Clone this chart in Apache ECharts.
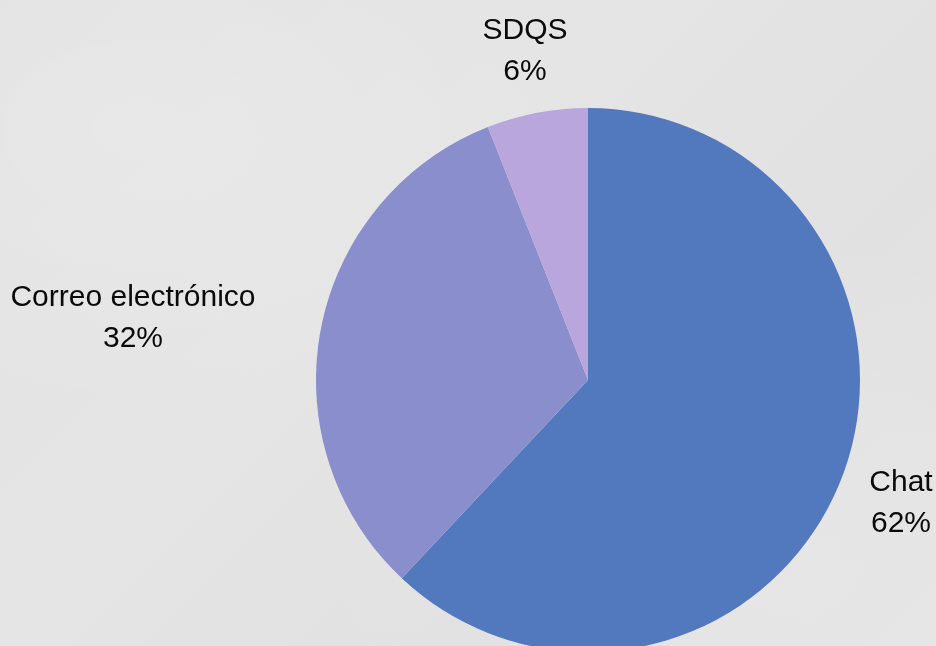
<!DOCTYPE html>
<html>
<head>
<meta charset="utf-8">
<script src="https://cdn.jsdelivr.net/npm/echarts@6/dist/echarts.min.js"></script>
<style>
html,body{margin:0;padding:0;}
body{width:936px;height:646px;overflow:hidden;
background:
 radial-gradient(ellipse at 15% 20%, rgba(255,255,255,0.18), rgba(255,255,255,0) 40%),
 radial-gradient(ellipse at 80% 85%, rgba(255,255,255,0.12), rgba(255,255,255,0) 45%),
 linear-gradient(135deg,#e2e2e3 0%,#e5e5e6 40%,#e1e1e2 70%,#e4e4e5 100%);}
#c{width:936px;height:646px;}
</style>
</head>
<body>
<div id="c"></div>
<script>
const categories = ['Chat', 'Correo electrónico', 'SDQS'];
const values = [62, 32, 6];
const colors = ['#5278bd', '#8b8ecc', '#b8a6dd'];

const labelPos = [[901, 503], [133, 318], [525, 51]];

const chart = echarts.init(document.getElementById('c'));
chart.setOption({
  backgroundColor: 'transparent',
  animation: false,
  series: [{
    type: 'pie',
    center: [588, 380],
    radius: 272,
    startAngle: 90,
    clockwise: true,
    itemStyle: { borderWidth: 0 },
    data: categories.map((n, i) => ({ name: n, value: values[i], itemStyle: { color: colors[i] } })),
    label: {
      show: true,
      position: 'outside',
      formatter: p => p.name + '\n' + Math.round(p.percent) + '%',
      fontFamily: 'Liberation Sans, Arial, sans-serif',
      fontSize: 30,
      lineHeight: 41,
      color: '#0a0a0a',
      align: 'center',
      overflow: 'none',
      width: 400
    },
    labelLine: { show: false },
    labelLayout: function (params) {
      const p = labelPos[params.dataIndex];
      return { x: p[0], y: p[1], align: 'center', verticalAlign: 'middle' };
    },
    emphasis: { disabled: true }
  }]
});
</script>
</body>
</html>
